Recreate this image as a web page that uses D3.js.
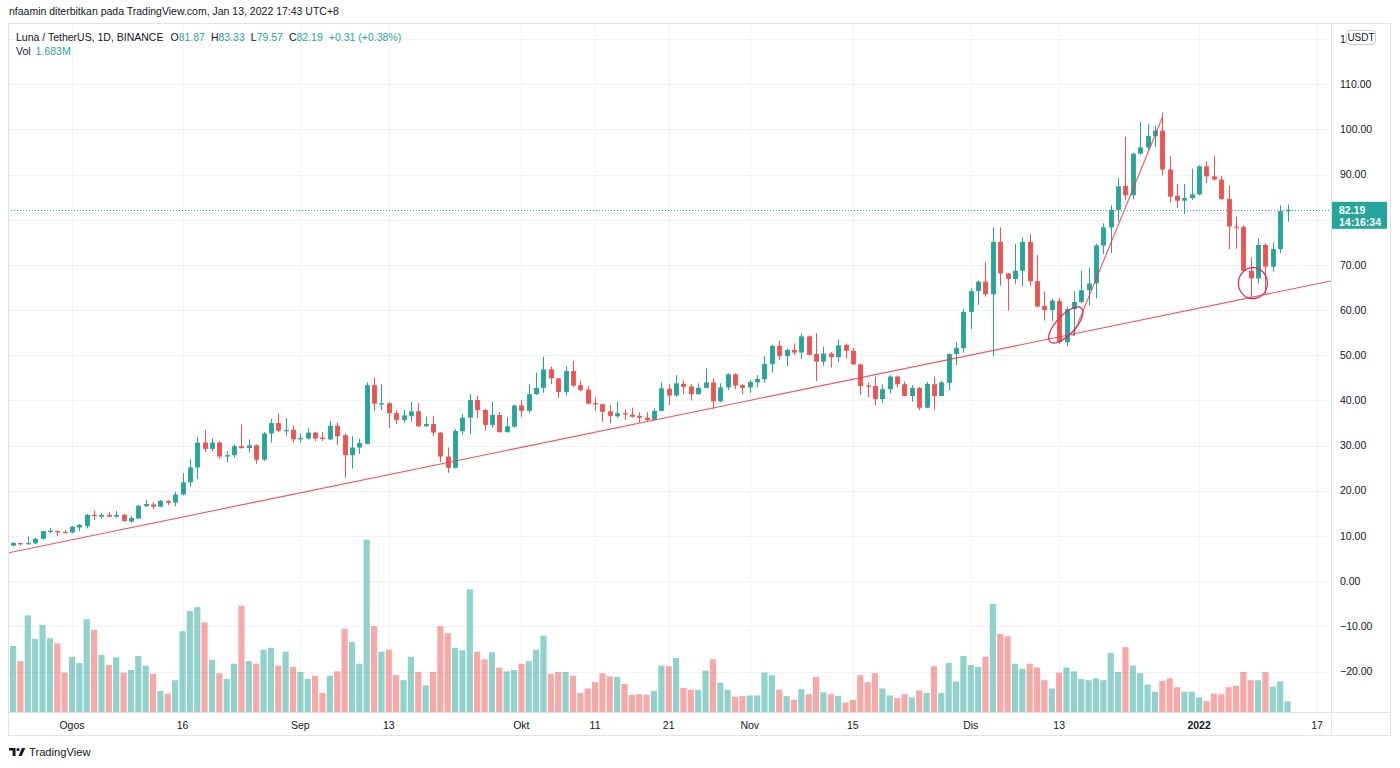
<!DOCTYPE html>
<html><head><meta charset="utf-8">
<script src="https://cdn.jsdelivr.net/npm/d3@7"></script>
<style>
body{margin:0;background:#fff;overflow:hidden;}
svg text{font-family:"Liberation Sans",Arial,sans-serif;}
</style></head><body>
<svg id="c" width="1400" height="768"></svg>
<script>
// ---------- DATA ----------
const startDate = "2021-07-24"; // first daily candle
const opens = [7.9,8.45,8.2,8.4,9.4,10.9,11.1,10.9,10.8,11.9,
12.2,14.7,14.3,14.7,14.3,14.7,13.2,13.9,16.6,17.0,
16.5,17.8,17.4,19.2,21.9,25.2,30.7,29.3,30.7,27.6,
27.9,29.9,29.5,30.1,26.9,32.7,35.0,33.2,33.5,31.4,
31.6,32.9,31.8,31.4,34.4,32.3,27.9,29.6,30.4,43.4,
39.1,39.4,37.2,35.7,36.6,37.6,34.3,34.8,32.9,27.6,
25.1,33.2,36.2,40.1,37.9,34.6,36.8,33.0,34.2,38.9,
37.7,41.4,42.8,46.9,44.9,41.9,46.5,43.4,42.4,39.4,
39.2,37.6,36.5,37.2,36.9,36.6,36.2,35.75,37.7,42.6,
41.1,43.7,43.1,41.4,42.8,44.0,39.8,42.9,45.8,43.4,
42.9,44.0,44.7,48.1,52.1,49.8,51.2,50.6,54.2,50.3,
48.6,50.4,49.6,52.3,51.0,48.0,43.3,43.2,40.3,42.5,
45.3,43.6,41.0,42.8,38.4,43.6,41.0,43.9,50.3,51.6,
59.6,64.2,66.3,63.5,75.1,68.1,66.9,68.7,75.1,66.4,
60.9,60.0,62.0,52.9,60.2,61.8,64.4,65.9,74.3,78.3,
82.2,87.5,85.4,94.6,96.0,98.5,99.7,91.1,85.3,84.2,
84.8,85.6,91.8,89.6,88.9,84.6,78.5,78.4,68.7,67.0,
74.4,69.6,73.5,81.87];
const highs = [8.6,8.5,9.9,9.6,11.2,11.8,11.2,11.4,12.2,12.7,
14.9,15.6,15.1,15.3,15.6,14.9,14.5,16.9,18.0,17.5,
18.0,17.9,19.8,23.9,27.0,31.9,33.5,31.6,31.0,28.8,
30.3,34.7,31.4,30.3,33.0,35.9,37.1,36.1,34.5,32.7,
33.9,33.0,33.0,35.5,35.1,32.7,32.1,31.5,44.0,45.0,
43.6,39.6,37.9,37.9,39.7,39.4,36.4,36.6,33.0,29.6,
33.7,37.0,41.4,41.0,38.1,39.7,37.4,36.3,39.1,40.1,
43.6,46.2,49.7,47.5,45.0,47.6,48.7,44.4,43.2,40.7,
39.2,39.0,39.7,38.0,38.4,37.4,37.4,38.3,44.0,43.6,
45.6,44.4,43.6,43.8,47.1,45.0,43.8,46.0,46.0,43.6,
44.5,45.6,49.8,52.4,53.2,51.5,52.6,54.9,54.4,54.9,
51.9,50.7,53.5,52.6,51.6,48.1,44.0,45.3,43.6,45.6,
45.5,44.2,43.4,43.0,44.1,45.3,44.3,50.4,52.9,60.2,
64.8,66.6,70.6,78.3,78.3,68.2,74.6,76.1,76.8,72.2,
64.1,62.6,62.7,60.8,64.2,68.7,69.3,74.7,79.2,83.2,
89.2,98.3,94.8,101.6,101.1,100.9,103.7,94.0,87.9,87.9,
91.3,92.0,92.9,94.1,89.7,87.5,80.6,78.7,71.7,75.9,
74.8,75.0,83.2,83.33];
const lows = [7.7,7.9,8.1,8.2,9.2,10.7,10.0,10.7,10.6,11.1,
11.7,13.6,13.9,14.2,14.0,13.2,13.0,13.8,16.5,16.0,
16.4,16.9,16.6,19.0,20.9,22.6,28.6,28.8,27.1,26.4,
27.3,29.3,28.5,26.0,26.6,30.7,33.0,32.2,30.7,30.7,
31.3,31.0,31.0,31.2,30.2,23.0,24.9,28.2,30.3,37.7,
37.9,33.9,34.8,35.1,35.3,34.1,34.2,32.1,26.4,24.0,
25.0,32.4,32.6,36.1,33.3,34.0,32.9,32.9,34.0,36.4,
37.3,41.2,41.7,43.6,40.6,41.1,43.0,42.0,39.2,37.7,
35.3,35.0,36.2,35.7,36.2,35.1,35.5,35.6,37.6,39.0,
40.8,41.5,40.0,41.3,42.7,38.1,39.6,42.3,42.5,41.4,
41.7,42.9,43.9,46.2,49.0,47.6,50.1,49.2,50.0,44.3,
47.7,47.3,48.5,49.3,47.9,41.2,40.7,38.9,39.5,41.6,
42.9,40.9,39.7,37.8,38.3,38.0,40.9,42.3,47.8,50.6,
55.8,61.1,63.0,49.8,65.4,59.9,65.8,65.2,65.3,60.6,
57.7,57.6,52.5,52.0,54.3,61.5,61.0,62.6,72.4,72.6,
79.6,84.4,84.5,94.4,95.4,96.1,89.8,83.8,82.6,81.3,
84.4,85.4,88.1,88.7,84.4,73.5,73.6,68.5,62.9,65.9,
63.5,68.5,72.6,79.57];
const closes = [8.5,8.2,8.45,9.4,11.1,11.2,10.8,10.8,12.1,12.5,
14.7,14.4,14.7,14.3,14.7,13.3,14.0,16.7,17.1,16.5,
17.8,17.4,19.2,21.9,25.2,30.7,29.3,30.7,27.6,27.9,
29.9,29.5,30.1,26.9,32.7,35.0,33.3,33.5,31.4,31.7,
32.9,31.6,31.5,34.4,32.1,27.9,29.6,30.6,43.4,39.3,
39.4,37.2,35.7,36.7,37.6,34.3,34.8,32.9,27.6,25.1,
33.25,36.2,40.1,37.9,34.6,36.8,33.0,34.3,38.9,37.7,
41.4,42.8,46.9,44.9,41.9,46.5,43.3,42.3,39.3,39.1,
37.5,36.6,37.2,36.9,36.4,36.2,35.7,37.7,42.7,41.1,
43.8,43.0,41.4,42.8,44.0,39.8,42.9,45.8,43.3,42.8,
44.1,44.75,48.1,52.1,49.8,51.2,50.6,54.2,50.1,48.6,
50.4,49.6,52.2,51.0,48.0,43.2,43.1,40.3,42.5,45.3,
43.6,41.0,42.8,38.4,43.65,41.0,44.0,50.3,51.6,59.6,
64.2,66.3,63.5,75.1,68.1,66.9,68.7,75.1,66.4,60.8,
60.0,62.1,52.9,60.2,61.8,64.4,65.9,74.3,78.3,82.2,
87.4,85.4,94.6,96.0,98.5,99.7,91.1,85.1,84.2,84.8,
85.6,91.8,89.6,88.9,84.6,78.5,78.3,68.7,67.0,74.4,
69.6,73.5,81.9,82.19];
const volumes = [10.4,8.0,15.2,11.5,13.7,11.6,10.8,6.2,8.7,7.7,
14.6,12.9,9.0,7.4,8.6,6.2,6.6,8.8,7.3,6.0,
3.3,2.9,5.0,12.7,15.9,16.5,14.1,8.2,6.1,5.2,
7.6,16.7,8.0,7.6,9.8,10.1,7.3,9.5,7.1,6.3,
5.2,5.7,3.0,5.7,6.4,13.1,11.0,7.6,27.1,13.5,
9.5,9.8,5.8,5.0,8.7,6.3,4.2,6.3,13.5,12.4,
10.1,9.7,19.3,9.5,8.3,9.4,7.0,6.4,6.6,7.6,
8.0,9.8,12.0,6.0,6.3,6.3,5.7,3.0,3.7,4.7,
6.1,5.6,5.5,4.4,2.7,2.8,2.7,3.3,7.3,7.2,
8.5,3.8,3.5,3.5,6.5,8.3,4.6,3.5,2.4,2.5,
2.6,2.6,6.2,5.8,3.5,2.5,1.9,3.6,2.8,5.5,
3.1,2.8,2.5,1.5,1.9,5.8,4.7,6.1,3.7,2.6,
2.2,2.8,2.3,3.4,3.0,7.2,3.0,7.7,4.8,8.8,
7.4,7.1,8.7,17.0,12.3,11.9,7.6,6.8,7.6,7.0,
5.0,3.7,6.2,7.0,6.4,5.2,5.0,5.3,5.0,9.3,
6.3,10.2,7.3,6.1,4.3,3.2,4.9,5.3,3.9,3.2,
3.2,2.3,1.7,2.9,2.8,3.9,4.1,6.3,5.0,5.0,
6.3,4.0,4.8,1.683]; // millions

const priceTicks = [-20,-10,0,10,20,30,40,50,60,70,80,90,100,110,120];
const dateTicks = ["2021-08-01","2021-08-16","2021-09-01","2021-09-13","2021-10-01","2021-10-11","2021-10-21","2021-11-01","2021-11-15","2021-12-01","2021-12-13","2022-01-01","2022-01-17"];
const dateLabels = ["Ogos","16","Sep","13","Okt","11","21","Nov","15","Dis","13","2022","17"];
const boldLabels = ["2022"];

// trend lines and marks drawn by the author (date, price)
const supportLine = [["2021-07-23T07:30:00Z", 6.28], ["2022-01-18T21:36:00Z", 66.44]];
const rallyLine = [["2021-12-14T20:24:00Z", 54.3], ["2021-12-27T00:00:00Z", 102.6]];
const ellipses = [
  {t:"2021-12-13T21:36:00Z", p:56.7, rx:23, ry:9.5, rot:-47},
  {t:"2022-01-08T07:12:00Z", p:65.95, rx:14.5, ry:15.5, rot:0}
];

const lastPrice = 82.19, countdown = "14:16:34";
const header = "nfaamin diterbitkan pada TradingView.com, Jan 13, 2022 17:43 UTC+8";
const symbolTitle = "Luna / TetherUS, 1D, BINANCE";
const ohlcLegend = [["O","81.87"],["H","83.33"],["L","79.57"],["C","82.19"]];
const changeText = "+0.31 (+0.38%)";
const volText = "1.683M";

// ---------- LAYOUT ----------
const frame = {left:8, top:23, right:1391, bottom:736};
const plot = {left:8, top:23, right:1331, bottom:712};
const UP = "#26a69a", DOWN = "#ef5350", TEXT = "#131722", GRID = "#f0f3fa", BORDER = "#e0e3eb";

const svg = d3.select("#c");
const day = 864e5;
const parse = s => new Date(s.length === 10 ? s + "T00:00:00Z" : s);
const t0 = parse(startDate);
const candles = opens.map((o,i)=>({t:new Date(+t0 + i*day), o, h:highs[i], l:lows[i], c:closes[i], v:volumes[i]}));

const x = d3.scaleUtc()
  .domain([parse("2021-08-01"), parse("2022-01-17")])
  .range([72, 1317]);
const y = d3.scaleLinear().domain([-28.92, 123.52]).range([plot.bottom, plot.top]);
const yv = d3.scaleLinear().domain([0, 30]).range([plot.bottom, plot.bottom - 190.7]);
const step = x(new Date(+t0 + day)) - x(t0);

// frame
svg.append("rect").attr("x",frame.left+0.5).attr("y",frame.top+0.5)
  .attr("width",frame.right-frame.left-1).attr("height",frame.bottom-frame.top-1)
  .attr("fill","#fff").attr("stroke",BORDER);

svg.append("defs").append("clipPath").attr("id","clip").append("rect")
  .attr("x",plot.left+1).attr("y",plot.top+1).attr("width",plot.right-plot.left-1).attr("height",plot.bottom-plot.top-1);

const g = svg.append("g").attr("clip-path","url(#clip)");

// grid
g.selectAll(".hg").data(priceTicks).join("line")
  .attr("x1",plot.left).attr("x2",plot.right)
  .attr("y1",d=>Math.round(y(d))+0.5).attr("y2",d=>Math.round(y(d))+0.5)
  .attr("stroke",GRID).attr("stroke-width",1);
g.selectAll(".vg").data(dateTicks).join("line")
  .attr("y1",plot.top).attr("y2",plot.bottom)
  .attr("x1",d=>Math.round(x(parse(d)))+0.5).attr("x2",d=>Math.round(x(parse(d)))+0.5)
  .attr("stroke",GRID).attr("stroke-width",1);

// volume
const bw = step*0.84;
g.selectAll(".vol").data(candles).join("rect")
  .attr("x",d=>x(d.t)-bw/2).attr("width",bw)
  .attr("y",d=>yv(d.v)).attr("height",d=>plot.bottom - yv(d.v))
  .attr("fill",d=>d.c>=d.o?UP:DOWN).attr("fill-opacity",0.5);

// candles
const cw = step*0.66;
const cg = g.selectAll(".cd").data(candles).join("g")
  .attr("fill",d=>d.c>=d.o?UP:DOWN).attr("stroke",d=>d.c>=d.o?UP:DOWN);
cg.append("line")
  .attr("x1",d=>Math.round(x(d.t))+0.5).attr("x2",d=>Math.round(x(d.t))+0.5)
  .attr("y1",d=>y(d.h)).attr("y2",d=>y(d.l)).attr("stroke-width",1);
cg.append("rect")
  .attr("x",d=>Math.round(x(d.t))+0.5-cw/2).attr("width",cw)
  .attr("y",d=>y(Math.max(d.o,d.c)))
  .attr("height",d=>Math.max(1.2, Math.abs(y(d.o)-y(d.c))))
  .attr("stroke","none");

// last price dotted line
g.append("line").attr("x1",plot.left).attr("x2",plot.right)
  .attr("y1",Math.round(y(lastPrice))+0.5).attr("y2",Math.round(y(lastPrice))+0.5)
  .attr("stroke",UP).attr("stroke-dasharray","1,2").attr("stroke-width",1);

// trend lines
const lineGen = d3.line().x(d=>x(parse(d[0]))).y(d=>y(d[1]));
[supportLine, rallyLine].forEach(l=>{
  g.append("path").attr("d",lineGen(l)).attr("fill","none")
    .attr("stroke","#f23645").attr("stroke-opacity",0.85).attr("stroke-width",1.1);
});
ellipses.forEach(e=>{
  const cx = x(parse(e.t)), cy = y(e.p);
  g.append("ellipse").attr("cx",0).attr("cy",0).attr("rx",e.rx).attr("ry",e.ry)
    .attr("transform",`translate(${cx},${cy}) rotate(${e.rot})`)
    .attr("fill","none").attr("stroke","#e91e63").attr("stroke-width",1.2);
});

// axis separators
svg.append("line").attr("x1",plot.right+0.5).attr("x2",plot.right+0.5)
  .attr("y1",frame.top).attr("y2",frame.bottom).attr("stroke",BORDER);
svg.append("line").attr("x1",frame.left).attr("x2",frame.right)
  .attr("y1",plot.bottom+0.5).attr("y2",plot.bottom+0.5).attr("stroke",BORDER);

// price axis labels
const fmt = d => (d<0?"\u2212":"") + Math.abs(d).toFixed(2);
svg.selectAll(".pl").data(priceTicks).join("text")
  .attr("x",1340).attr("y",d=>y(d)+3.6)
  .attr("font-size",10.5).attr("fill",TEXT).text(fmt);

// USDT badge
svg.append("rect").attr("x",1346.5).attr("y",30.5).attr("width",29).attr("height",14).attr("rx",3)
  .attr("fill","#fff").attr("stroke","#c9ccd4");
svg.append("text").attr("x",1361).attr("y",41.3).attr("text-anchor","middle")
  .attr("font-size",10).attr("fill",TEXT).text("USDT");

// last price label
svg.append("rect").attr("x",plot.right+1).attr("y",y(lastPrice)-8).attr("width",55).attr("height",27)
  .attr("fill",UP);
svg.append("text").attr("x",1339).attr("y",y(lastPrice)+3.8).attr("font-size",10.5)
  .attr("font-weight","bold").attr("fill","#fff").text(lastPrice.toFixed(2));
svg.append("text").attr("x",1339).attr("y",y(lastPrice)+15.8).attr("font-size",10.5)
  .attr("font-weight","bold").attr("fill","#fff").text(countdown);

// time axis labels
svg.selectAll(".tl").data(dateTicks).join("text")
  .attr("x",d=>x(parse(d))).attr("y",729).attr("text-anchor","middle")
  .attr("font-size",10.5).attr("fill",TEXT)
  .attr("font-weight",(d,i)=>boldLabels.includes(dateLabels[i])?"bold":"normal")
  .text((d,i)=>dateLabels[i]);

// header
svg.append("text").attr("x",9).attr("y",15).attr("font-size",10.5).attr("fill",TEXT).text(header);

// legend
const leg = svg.append("text").attr("x",16).attr("y",41).attr("font-size",10.5).attr("fill",TEXT);
leg.append("tspan").text(symbolTitle);
ohlcLegend.forEach((p,i)=>{
  leg.append("tspan").attr("dx", i===0?7:6).attr("fill",TEXT).text(p[0]);
  leg.append("tspan").attr("fill",UP).text(p[1]);
});
leg.append("tspan").attr("dx",6).attr("fill",UP).text(changeText);
const vl = svg.append("text").attr("x",16).attr("y",55).attr("font-size",10.5).attr("fill",TEXT);
vl.append("tspan").text("Vol");
vl.append("tspan").attr("dx",5).attr("fill",UP).text(volText);

// TradingView footer logo
const logo = svg.append("g").attr("transform","translate(9,748)").attr("fill",TEXT);
logo.append("path").attr("d","M0 0H6.5V8H3.6V2.6H0Z");
logo.append("circle").attr("cx",9).attr("cy",1.6).attr("r",1.6);
logo.append("path").attr("d","M9.6 8L12.8 0H16.4L12.6 8Z");
svg.append("text").attr("x",29).attr("y",756).attr("font-size",11.2).attr("fill",TEXT).text("TradingView");
</script>
</body></html>
